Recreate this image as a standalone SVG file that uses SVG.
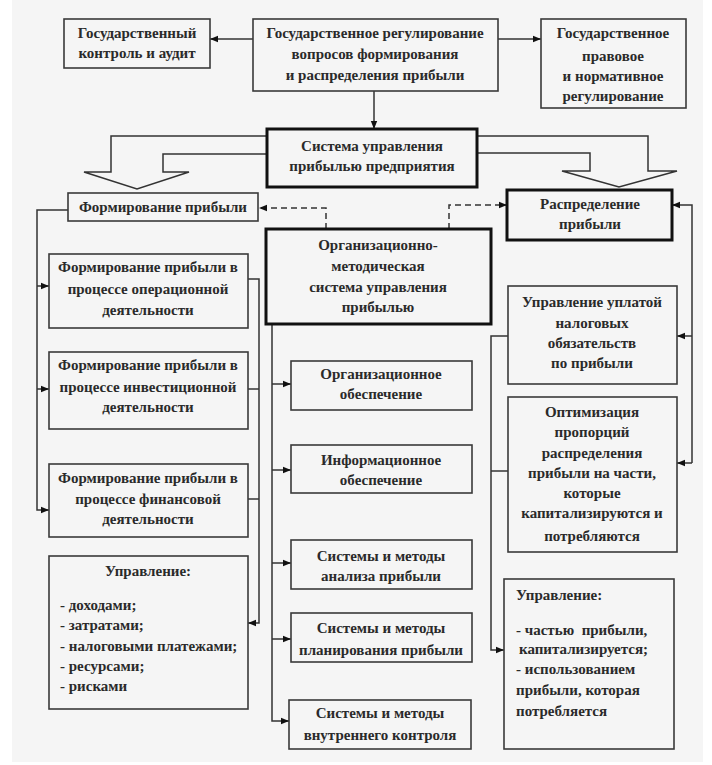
<svg xmlns="http://www.w3.org/2000/svg" width="712" height="765" viewBox="0 0 712 765" font-family="'Liberation Serif', 'DejaVu Serif', serif">
<style>
.bx{fill:none;stroke:#3a3a3a;stroke-width:1.6}
.bk{fill:none;stroke:#111;stroke-width:3}
.t{font-family:'Liberation Serif','DejaVu Serif',serif;font-size:15px;font-weight:bold;fill:#2a2a2a;text-anchor:middle}
.l{text-anchor:start}
.c{fill:none;stroke:#333;stroke-width:1.5}
.d{stroke-dasharray:6,4}
</style>
<defs>
<marker id="a" markerUnits="userSpaceOnUse" markerWidth="8" markerHeight="8" refX="8" refY="4" orient="auto">
<path d="M0,0.8 L8,4 L0,7.2 z" fill="#111"/>
</marker>
</defs>
<rect width="712" height="765" fill="#fff"/>
<rect x="12" y="0" width="691" height="762" fill="#f5f5f5"/>

<g id="connectors">
<path class="c" d="M253,39 H210" marker-end="url(#a)"/>
<path class="c" d="M498,39 H541" marker-end="url(#a)"/>
<path class="c" d="M374,91 V129" marker-end="url(#a)"/>
<path class="c" d="M267,136 H111 V172 H84 L137,189 L189,172 H163 V154 H267"/>
<path class="c" d="M477,136 H648 V171 H677 L619,187 L562,171 H590 V153 H477"/>
<path class="c d" d="M326,229 V208 H259" marker-end="url(#a)"/>
<path class="c d" d="M449,229 V205 H507" marker-end="url(#a)"/>
<path class="c" d="M68,210 H37 V510 H49" marker-end="url(#a)"/>
<path class="c" d="M37,286 H49" marker-end="url(#a)"/>
<path class="c" d="M37,389 H49" marker-end="url(#a)"/>
<path class="c" d="M248,279 H259 V623 H248" marker-end="url(#a)"/>
<path class="c" d="M248,389 H259"/>
<path class="c" d="M248,499 H259"/>
<path class="c" d="M272,324 V721 H289" marker-end="url(#a)"/>
<path class="c" d="M272,384 H291" marker-end="url(#a)"/>
<path class="c" d="M272,470 H291" marker-end="url(#a)"/>
<path class="c" d="M272,563 H291" marker-end="url(#a)"/>
<path class="c" d="M272,639 H291" marker-end="url(#a)"/>
<path class="c" d="M692,463 V205 H672" marker-end="url(#a)"/>
<path class="c" d="M692,336 H677" marker-end="url(#a)"/>
<path class="c" d="M692,463 H677" marker-end="url(#a)"/>
<path class="c" d="M508,336 H491 V650 H504" marker-end="url(#a)"/>
<path class="c" d="M508,471 H491"/>
</g>

<g id="n-control">
<rect class="bx" x="64" y="19" width="146" height="49"/>
<text class="t" x="137" y="38">Государственный</text>
<text class="t" x="137" y="58">контроль и аудит</text>
</g>
<g id="n-gosreg">
<rect class="bx" x="253" y="19" width="245" height="72"/>
<text class="t" x="375" y="38">Государственное регулирование</text>
<text class="t" x="375" y="59">вопросов формирования</text>
<text class="t" x="375" y="80">и распределения прибыли</text>
</g>
<g id="n-pravo">
<rect class="bx" x="541" y="19" width="145" height="89"/>
<text class="t" x="613" y="38">Государственное</text>
<text class="t" x="613" y="61">правовое</text>
<text class="t" x="613" y="81">и нормативное</text>
<text class="t" x="613" y="101">регулирование</text>
</g>
<g id="n-system">
<rect class="bk" x="267" y="129" width="210" height="58"/>
<text class="t" x="372" y="151">Система управления</text>
<text class="t" x="372" y="171">прибылью предприятия</text>
</g>
<g id="n-form">
<rect class="bx" x="68" y="193" width="190" height="28"/>
<text class="t" x="163" y="212">Формирование прибыли</text>
</g>
<g id="n-raspr">
<rect class="bk" x="507" y="190" width="165" height="50"/>
<text class="t" x="590" y="209">Распределение</text>
<text class="t" x="590" y="229">прибыли</text>
</g>
<g id="n-orgmet">
<rect class="bk" x="266" y="229" width="225" height="95"/>
<text class="t" x="378" y="250">Организационно-</text>
<text class="t" x="378" y="271">методическая</text>
<text class="t" x="378" y="292">система управления</text>
<text class="t" x="378" y="312">прибылью</text>
</g>
<g id="n-oper">
<rect class="bx" x="49" y="254" width="199" height="74"/>
<text class="t" x="148" y="272">Формирование прибыли в</text>
<text class="t" x="148" y="294">процессе операционной</text>
<text class="t" x="148" y="315">деятельности</text>
</g>
<g id="n-invest">
<rect class="bx" x="49" y="352" width="199" height="77"/>
<text class="t" x="148" y="370">Формирование прибыли в</text>
<text class="t" x="148" y="392">процессе инвестиционной</text>
<text class="t" x="148" y="412">деятельности</text>
</g>
<g id="n-fin">
<rect class="bx" x="49" y="464" width="199" height="73"/>
<text class="t" x="148" y="483">Формирование прибыли в</text>
<text class="t" x="148" y="504">процессе финансовой</text>
<text class="t" x="148" y="524">деятельности</text>
</g>
<g id="n-upr-left">
<rect class="bx" x="49" y="556" width="199" height="153"/>
<text class="t" x="148" y="576">Управление:</text>
<text class="t l" x="60" y="610">- доходами;</text>
<text class="t l" x="60" y="630">- затратами;</text>
<text class="t l" x="60" y="651">- налоговыми платежами;</text>
<text class="t l" x="60" y="671">- ресурсами;</text>
<text class="t l" x="60" y="691">- рисками</text>
</g>
<g id="n-orgob">
<rect class="bx" x="291" y="361" width="181" height="49"/>
<text class="t" x="381" y="379">Организационное</text>
<text class="t" x="381" y="399">обеспечение</text>
</g>
<g id="n-infob">
<rect class="bx" x="291" y="445" width="181" height="48"/>
<text class="t" x="381" y="465">Информационное</text>
<text class="t" x="381" y="485">обеспечение</text>
</g>
<g id="n-analiz">
<rect class="bx" x="291" y="540" width="181" height="49"/>
<text class="t" x="381" y="561">Системы и методы</text>
<text class="t" x="381" y="581">анализа прибыли</text>
</g>
<g id="n-plan">
<rect class="bx" x="291" y="613" width="181" height="49"/>
<text class="t" x="381" y="633">Системы и методы</text>
<text class="t" x="381" y="655">планирования прибыли</text>
</g>
<g id="n-kontrol">
<rect class="bx" x="289" y="700" width="182" height="49"/>
<text class="t" x="380" y="718">Системы и методы</text>
<text class="t" x="380" y="740">внутреннего контроля</text>
</g>
<g id="n-nalog">
<rect class="bx" x="508" y="286" width="169" height="98"/>
<text class="t" x="592" y="307">Управление уплатой</text>
<text class="t" x="592" y="328">налоговых</text>
<text class="t" x="592" y="348">обязательств</text>
<text class="t" x="592" y="368">по прибыли</text>
</g>
<g id="n-optim">
<rect class="bx" x="508" y="397" width="169" height="155"/>
<text class="t" x="592" y="417">Оптимизация</text>
<text class="t" x="592" y="437">пропорций</text>
<text class="t" x="592" y="458">распределения</text>
<text class="t" x="592" y="478">прибыли на части,</text>
<text class="t" x="592" y="498">которые</text>
<text class="t" x="592" y="518">капитализируются и</text>
<text class="t" x="592" y="541">потребляются</text>
</g>
<g id="n-upr-right">
<rect class="bx" x="504" y="579" width="170" height="170"/>
<text class="t l" x="516" y="600">Управление:</text>
<text class="t l" x="516" y="635" xml:space="preserve">- частью  прибыли,</text>
<text class="t l" x="519" y="654">капитализируется;</text>
<text class="t l" x="516" y="674">- использованием</text>
<text class="t l" x="516" y="695">прибыли, которая</text>
<text class="t l" x="516" y="716">потребляется</text>
</g>
</svg>
